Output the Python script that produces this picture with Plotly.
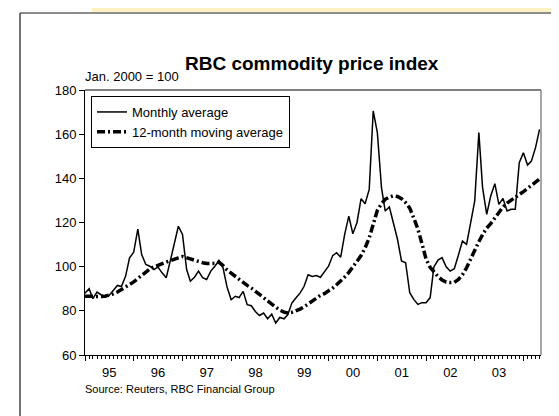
import pandas as pd
import plotly.graph_objects as go

# ---- data ----
start_month = "1995-01-01"
monthly_average = [
    88, 90, 85.5, 88.5, 87.3, 86.6, 87, 89, 91.5, 91, 95.6, 104,            # 1995
    106.5, 117, 105.5, 101, 100.2, 98.7, 99.8, 97.2, 95, 102.5, 110, 118.3,  # 1996
    114.6, 98.7, 93.4, 95.2, 98, 95, 94.2, 98, 100.2, 102.8, 99.5, 90.8,     # 1997
    85, 86.6, 86, 88.8, 82.8, 82.3, 79.7, 77.9, 79, 76.4, 78.5, 74.5,        # 1998
    77, 76.4, 78.2, 83.5, 85.8, 88, 91, 96.3, 95.6, 96, 95.2, 97.6,          # 1999
    100.2, 105, 106.3, 104.3, 114.6, 122.9, 114.9, 119.9, 130.8, 128.5, 135, 170.5,  # 2000
    160.7, 135.8, 125.2, 127, 119.9, 112.4, 102.6, 101.8, 88.2, 85.2, 82.9, 83.7,   # 2001
    83.7, 86, 99.9, 103, 104.1, 99.9, 98, 99.1, 105.3, 111.6, 110.1, 120.2,  # 2002
    129.7, 160.7, 135.8, 123.7, 132, 137.6, 128.2, 130.9, 125.2, 126, 126, 147.1,   # 2003
    151.6, 146, 147.8, 153.9, 162.2,                                         # 2004
]
moving_average_12m = [
    86.6, 86.5, 86.4, 86.4, 86.5, 86.6, 87, 87.7, 88.5, 89.6, 90.8, 92,
    93.1, 94.6, 96.1, 97.6, 99, 99.9, 100.7, 101.4, 102.1, 102.7, 103.2, 104,
    104.6, 104, 103.2, 102.7, 102.2, 101.8, 101.4, 101.4, 101.5, 102, 100.5, 98.5,
    97, 95.8, 94.5, 92.8, 91.5, 90.3, 89, 87.6, 86, 84.5, 83, 81.5,
    80.3, 79.4, 79, 79.3, 79.9, 80.8, 81.8, 83.2, 84.6, 86, 87, 87.8,
    89, 90.3, 91.8, 93.4, 95.3, 97.4, 99.6, 102.4, 105, 108.5, 113, 119,
    125.5, 128.5, 130.5, 131.5, 132.1, 131.8, 130.8, 129, 126.5, 122, 117, 110.5,
    103.5, 99.7, 97.5, 95.5, 94, 93, 92.8, 92.9, 94.2, 96.3, 99.5, 103.5,
    107.3, 111.3, 114.5, 117.5, 119.5, 122, 124.5, 127, 128.8, 130.2, 131.3, 133,
    134, 135.4, 136.8, 138.3, 139.7,
]
series_names = ["Monthly average", "12-month moving average"]
title_text = "RBC commodity price index"
unit_text = "Jan. 2000 = 100"
source_text = "Source: Reuters, RBC Financial Group"
y_ticks = [60, 80, 100, 120, 140, 160, 180]

dates = pd.date_range(start_month, periods=len(monthly_average), freq="MS")

FONT = "Liberation Sans, Arial, Helvetica, sans-serif"

# plot-area geometry in pixels (for decorations)
W, H = 559, 416
L, R, T, B = 77, 26, 82, 69
pw, ph = W - L - R, H - T - B


def px_x(x):
    return (x - L) / pw


def px_y(y):
    return (H - B - y) / ph


fig = go.Figure()
fig.add_trace(go.Scatter(
    x=dates, y=monthly_average, mode="lines", name=series_names[0],
    line=dict(color="black", width=1.5),
))
fig.add_trace(go.Scatter(
    x=dates, y=moving_average_12m, mode="lines", name=series_names[1],
    line=dict(color="black", width=3.5, dash="8px,3px,2px,3px"),
))

shapes = [
    # yellow band at the very top
    dict(type="rect", xref="paper", yref="paper",
         x0=px_x(84), x1=px_x(W + 5), y0=px_y(4), y1=px_y(-5),
         fillcolor="#FFF2C2", line=dict(width=0), layer="below"),
    # outer frame: top and left
    dict(type="line", xref="paper", yref="paper",
         x0=px_x(12), x1=px_x(W + 5), y0=px_y(5), y1=px_y(5),
         line=dict(color="#666666", width=1.5)),
    dict(type="line", xref="paper", yref="paper",
         x0=px_x(12), x1=px_x(12), y0=px_y(5), y1=px_y(H + 5),
         line=dict(color="#444444", width=1.5)),
    # plot box top & right
    dict(type="line", xref="paper", yref="paper",
         x0=0, x1=1, y0=1, y1=1, line=dict(color="black", width=1)),
    dict(type="line", xref="paper", yref="paper",
         x0=1, x1=1, y0=0, y1=1, line=dict(color="#888888", width=1.5)),
]

annotations = [
    dict(text=f"<b>{title_text}</b>", xref="paper", yref="paper",
         x=px_x(304), y=px_y(55), xanchor="center", yanchor="middle",
         showarrow=False, font=dict(family=FONT, size=19, color="black")),
    dict(text=unit_text, xref="paper", yref="paper",
         x=px_x(75), y=px_y(68), xanchor="left", yanchor="middle",
         showarrow=False, font=dict(family=FONT, size=13, color="black")),
    dict(text=source_text, xref="paper", yref="paper",
         x=px_x(75), y=px_y(381), xanchor="left", yanchor="middle",
         showarrow=False, font=dict(family=FONT, size=11, color="black")),
]

fig.update_layout(
    width=W, height=H,
    margin=dict(l=L, r=R, t=T, b=B, pad=0),
    paper_bgcolor="white", plot_bgcolor="white",
    font=dict(family=FONT, size=13, color="black"),
    showlegend=True,
    legend=dict(x=px_x(83), y=px_y(88), xanchor="left", yanchor="top",
                bordercolor="black", borderwidth=1, bgcolor="white",
                font=dict(family=FONT, size=13, color="black"),
                tracegroupgap=0, itemwidth=30),
    shapes=shapes,
    annotations=annotations,
    xaxis=dict(
        type="date",
        range=["1995-01-01", "2004-05-12"],
        tick0="1995-01-01", dtick="M12", tickformat="%y",
        ticklabelmode="period",
        ticks="outside", ticklen=5, tickcolor="black", tickwidth=1,
        minor=dict(dtick="M1", tick0="1995-01-01", ticks="outside",
                   ticklen=3, tickcolor="black", tickwidth=1, showgrid=False),
        showline=True, linecolor="black", linewidth=1,
        showgrid=False, zeroline=False,
        tickfont=dict(family=FONT, size=13, color="black"),
    ),
    yaxis=dict(
        range=[60, 180], tickvals=y_ticks,
        ticks="outside", ticklen=5, tickcolor="black", tickwidth=1,
        showline=True, linecolor="black", linewidth=1,
        showgrid=False, zeroline=False,
        tickfont=dict(family=FONT, size=13, color="black"),
    ),
)

fig.write_html("out.html")
